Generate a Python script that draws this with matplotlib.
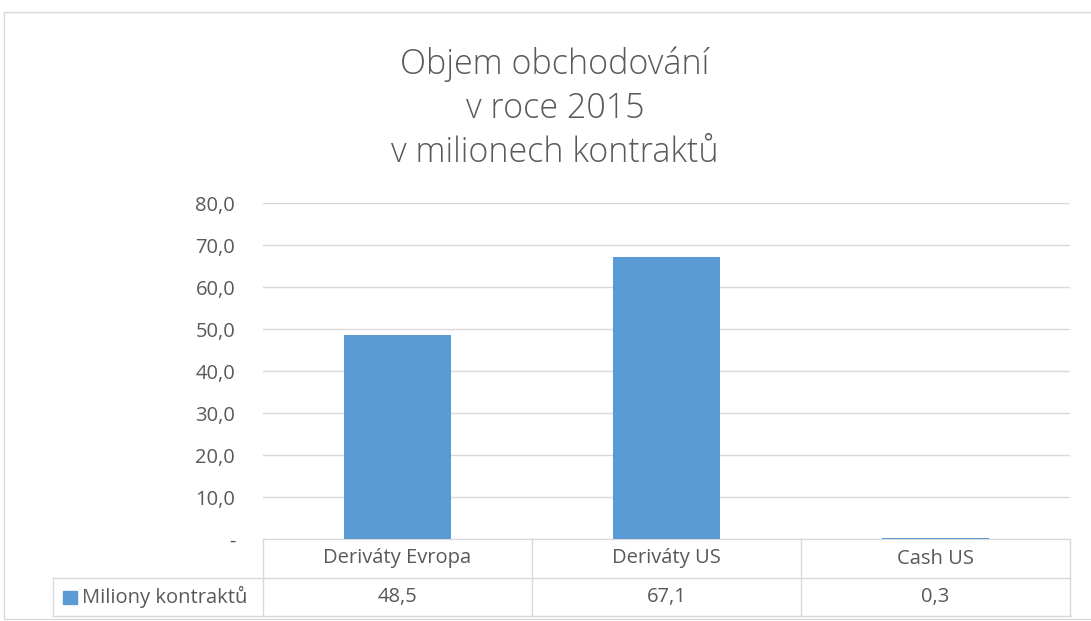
import matplotlib.pyplot as plt
from matplotlib.patches import Rectangle
from matplotlib.transforms import blended_transform_factory

# data ---------------------------------------------
categories = ['Deriváty Evropa', 'Deriváty US', 'Cash US']
values = [48.5, 67.1, 0.3]
series_name = 'Miliony kontraktů'
yticks = [0, 10, 20, 30, 40, 50, 60, 70, 80]
title = 'Objem obchodování\nv roce 2015\nv milionech kontraktů'

bar_color = '#5b9bd5'
text_color = '#595959'
grid_color = '#d9d9d9'

plt.rcParams['font.family'] = ['Open Sans', 'DejaVu Sans']

W, H = 1091, 621
fig = plt.figure(figsize=(W / 100, H / 100), dpi=100)

# outer chart frame
fig.add_artist(Rectangle((4 / W, 1 - 619 / H), 1.2, (619 - 12) / H,
                         transform=fig.transFigure, fill=False,
                         edgecolor='#d9d9d9', linewidth=1))

left, right, top, bottom = 263, 1070, 203, 539
ax = fig.add_axes([left / W, 1 - bottom / H, (right - left) / W, (bottom - top) / H])

x = range(len(categories))
ax.bar(x, values, width=0.4, color=bar_color, zorder=3)
ax.set_xlim(-0.5, len(categories) - 0.5)
ax.set_ylim(0, 80)
ax.set_yticks(yticks)
ax.set_yticklabels(['-' if v == 0 else f'{v:.1f}'.replace('.', ',') for v in yticks])
ax.set_xticks([])
ax.tick_params(axis='y', length=0, pad=20, labelsize=14.5, labelcolor=text_color)
ax.grid(axis='y', color=grid_color, linewidth=1, zorder=0)
for s in ['top', 'right', 'left']:
    ax.spines[s].set_visible(False)
ax.spines['bottom'].set_color(grid_color)

fig.text(555 / W, 1 - 108 / H, title, ha='center', va='center', fontsize=24.5,
         color=text_color, linespacing=1.36, fontweight='light')

# data table under the plot -------------------------
ph = bottom - top
r1 = -(578 - bottom) / ph
r2 = -(616 - bottom) / ph
xl = (53 - left) / (right - left)
lw = dict(color=grid_color, linewidth=1, clip_on=False)
ta = ax.transAxes
ax.plot([xl, 1], [r1, r1], transform=ta, **lw)
ax.plot([xl, 1], [r2, r2], transform=ta, **lw)
ax.plot([xl, xl], [r1, r2], transform=ta, **lw)
for i in range(len(categories) + 1):
    xx = i / len(categories)
    ax.plot([xx, xx], [0, r2], transform=ta, **lw)

tb = blended_transform_factory(ax.transData, ax.transAxes)
for i, (c, v) in enumerate(zip(categories, values)):
    ax.text(i, r1 / 2, c, transform=tb, ha='center', va='center',
            fontsize=14.5, color=text_color)
    ax.text(i, (r1 + r2) / 2, f'{v:.1f}'.replace('.', ','), transform=tb,
            ha='center', va='center', fontsize=14.5, color=text_color)

kx = (63 - left) / (right - left)
ks = 14 / (right - left)
ax.add_patch(Rectangle((kx, (r1 + r2) / 2 - 6.5 / ph), ks, 13 / ph, transform=ta,
                       color=bar_color, clip_on=False))
ax.text((82 - left) / (right - left), (r1 + r2) / 2, series_name, transform=ta,
        ha='left', va='center', fontsize=14.5, color=text_color)

fig.savefig('out.png', dpi=100)
